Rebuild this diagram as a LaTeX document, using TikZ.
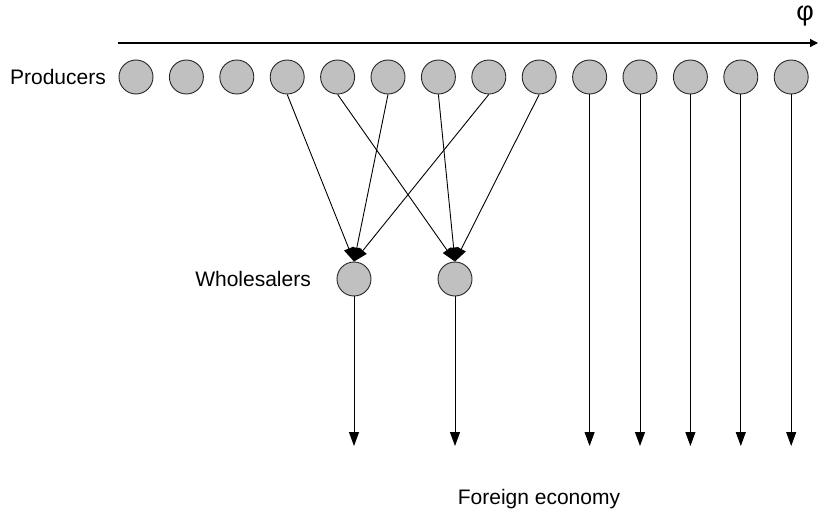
\documentclass[tikz,border=0pt]{standalone}
\usepackage{fontspec}
\setmainfont{Liberation Sans}
\usetikzlibrary{arrows.meta}
\definecolor{firmgray}{HTML}{C0C0C0}
\tikzset{firm/.style = {circle, draw = black!85, fill = firmgray, minimum size = 34pt, inner sep = 0, line width = 0.9}}
\tikzset{label text/.style = {inner sep = 0, font = \fontsize{21}{24}\selectfont}}
\tikzset{flow/.style = {-{Triangle[length = 14pt, width = 10pt]}, line width = 0.9}}

\begin{document}
\begin{tikzpicture}[x = 1pt, y = -1pt]
\useasboundingbox (0,0) rectangle (819,519);
\draw [-{Triangle[length = 8pt, width = 8pt]}, line width = 1.3] (118,43) -- (818,43);
\node [label text, font = \fontsize{27}{30}\selectfont] (phi) at (805,16) {φ};
\foreach \i in {1,2,...,14}
\node [firm] (p\i) at ({136+50.4*(\i-1)}, 77) {};
\node [label text, anchor = east] (producers) at (106,77) {Producers};
\node [firm] (w1) at (354,279) {};
\node [firm] (w2) at (455,279) {};
\node [label text, anchor = east] (wholesalers) at (311,279) {Wholesalers};
\foreach \i/\j in {4/1,6/1,8/1,5/2,7/2,9/2}
\draw [flow] (p\i.south) -- (w\j.north);
\foreach \j in {1,2}
\coordinate (ew\j) at (w\j.south |- 0,446);
\foreach \j in {1,2}
\draw [flow] (w\j.south) -- (ew\j);
\foreach \i in {10,11,...,14}
\coordinate (ep\i) at (p\i.south |- 0,446);
\foreach \i in {10,11,...,14}
\draw [flow] (p\i.south) -- (ep\i);
\node [label text, anchor = base] (foreign) at (539,504) {Foreign economy};
\end{tikzpicture}
\end{document}
